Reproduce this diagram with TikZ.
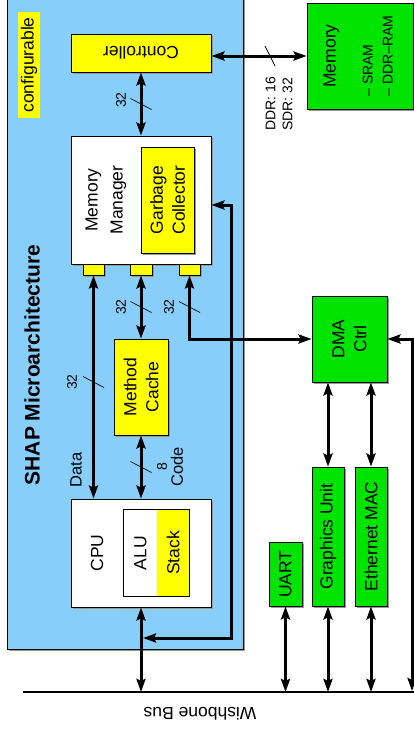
\documentclass[tikz,border=0pt]{standalone}
\usepackage{fontspec}
\setmainfont{Liberation Sans}
\usetikzlibrary{arrows.meta,shadows}
\definecolor{sky}{RGB}{135,206,250}
\definecolor{chipgreen}{RGB}{0,228,0}
\definecolor{hiyellow}{RGB}{255,255,0}
\newcommand{\mainfs}{\fontsize{17.5}{22}\selectfont}
\newcommand{\smallfs}{\fontsize{14}{17}\selectfont}
\newcommand{\listfs}{\fontsize{14}{20}\selectfont}
% bus width marks across a vertical / horizontal link
\newcommand{\vslash}[1]{\draw[slash] (#1) ++(-10.5,-5.5) -- ++(21,11);}
\newcommand{\hslash}[1]{\draw[slash] (#1) ++(-5,-10) -- ++(10,20);}

\begin{document}
\begin{tikzpicture}[
  x=1pt, y=-1pt, font=\mainfs,
  box/.style={draw, line width=0.8pt, inner sep=0pt,
    drop shadow={shadow xshift=1.5pt, shadow yshift=-1.5pt, fill=black!40, opacity=1}},
  core/.style={box, fill=hiyellow},
  unit/.style={box, fill=chipgreen},
  vtext/.style={rotate=90, align=center},
  num/.style={rotate=90, font=\smallfs},
  link/.style={{Stealth[length=13pt,width=9pt,inset=2pt]}-{Stealth[length=13pt,width=9pt,inset=2pt]}, line width=3pt},
  slash/.style={line width=0.7pt}]
\useasboundingbox (0,0) rectangle (414,734);
\clip (0,0) rectangle (414,734);

% SHAP chip
\draw[box, fill=sky] (7,-10) rectangle (243,649);
\node[fill=hiyellow, rotate=90, minimum width=106pt, minimum height=22pt, inner sep=0pt] (cfg) at (29,65) {configurable};
\node[rotate=90, font=\fontsize{21}{25}\selectfont\bfseries] (title) at (32,365) {SHAP Microarchitecture};

\node[core, minimum width=140pt, minimum height=38pt] (ctrl) at (141,53) {};
\node[rotate=180] (ctrl-t) at (ctrl) {Controller};

\node[box, fill=white, minimum width=140pt, minimum height=128pt] (mm) at (141,200) {};
\node[vtext, font=\fontsize{17.5}{25}\selectfont] (mm-t) at (106,200) {Memory\\Manager};
\node[core, minimum width=53pt, minimum height=106pt] (gc) at (167.5,200) {};
\node[vtext] (gc-t) at (gc) {Garbage\\Collector};
\node[core, minimum width=21pt, minimum height=11pt] (p1) at (93.5,269.5) {};
\node[core, minimum width=22pt, minimum height=11pt] (p2) at (141,269.5) {};
\node[core, minimum width=21pt, minimum height=11pt] (p3) at (189.5,269.5) {};

\node[core, minimum width=54pt, minimum height=96pt] (mc) at (141,387) {};
\node[vtext] (mc-t) at (mc) {Method\\Cache};

\node[box, fill=white, minimum width=140pt, minimum height=108pt] (cpu) at (141,553) {};
\node[vtext] (cpu-t) at (97,553) {CPU};
\node[fill=white, minimum width=33pt, minimum height=86pt, inner sep=0pt] (alu) at (140.5,553) {};
\node[fill=hiyellow, minimum width=32pt, minimum height=86pt, inner sep=0pt] (stack) at (173,553) {};
\draw[line width=0.8pt] (alu.north west) rectangle (stack.south east);
\node[vtext] (alu-t) at (alu) {ALU};
\node[vtext] (stack-t) at (stack) {Stack};

% peripherals
\node[unit, minimum width=106pt, minimum height=106pt] (mem) at (360,56) {};
\node[vtext, font=\listfs] (mem-t) at (mem) {\begin{tabular}{@{}l@{}}\multicolumn{1}{@{}c@{}}{\mainfs Memory}\\[17pt] -- SRAM\\ -- DDR--RAM\end{tabular}};
\node[unit, minimum width=75pt, minimum height=86pt] (dma) at (349.5,339) {};
\node[vtext] (dma-t) at (dma) {DMA\\Ctrl};
\node[unit, minimum width=32pt, minimum height=139pt] (gu) at (328,536.5) {};
\node[vtext] (gu-t) at (gu) {Graphics Unit};
\node[unit, minimum width=32pt, minimum height=139pt] (eth) at (371,536.5) {};
\node[vtext] (eth-t) at (eth) {Ethernet MAC};
\node[unit, minimum width=33pt, minimum height=64pt] (uart) at (285.5,574) {};
\node[vtext] (uart-t) at (uart) {UART};

% Wishbone bus
\coordinate (bus-l) at (23,692);
\coordinate (bus-r) at (414,692);
\draw[line width=2.8pt] (bus-l) -- (bus-r);
\node[rotate=180] (bus-t) at (200,714) {Wishbone Bus};

% links
\draw[link] (ctrl.east |- mem.west) -- (mem.west);
\hslash{270,56}
\node[num, align=left] (ddr) at (279,104) {DDR: 16\\SDR: 32};

\draw[link] (ctrl.south) -- (mm.north) coordinate[midway] (w-cm);
\vslash{w-cm}
\node[num] (w-cm-t) at (121,100) {32};

\draw[link] (p1.south) -- (p1.south |- cpu.north);
\vslash{93.5,382}
\node[num] (w-data-t) at (72,382) {32};
\node[rotate=90, font=\fontsize{16.5}{20}\selectfont] (data-t) at (76,470) {Data};

\draw[link] (p2.south) -- (mc.north) coordinate[midway] (w-mc);
\vslash{w-mc}
\node[num] (w-mc-t) at (121,307) {32};

\draw[link] (p3.south) |- (dma.west);
\vslash{189.5,307}
\node[num] (w-dma-t) at (169,307) {32};

\draw[link] (mc.south) -- (mc.south |- cpu.north) coordinate[midway] (w-code);
\vslash{w-code}
\node[rotate=90, align=center, font=\fontsize{16.5}{16}\selectfont] (code-t) at (170,467) {{\smallfs 8}\\Code};

\coordinate (gc-tap) at (143,638);
\coordinate (gc-bend) at (231,205);
\draw[link] (gc-tap) -| (gc-bend) -- (gc-bend -| mm.east);
\draw[link] (cpu.south) -- (cpu.south |- bus-l);

\draw[link] (dma.south -| gu) -- (gu.north);
\draw[link] (dma.south -| eth) -- (eth.north);
\foreach \u in {uart,gu,eth}
  \draw[link] (\u.south) -- (\u.south |- bus-l);
\coordinate (dma-tap) at (412,691);
\draw[link] (dma-tap) |- (dma.east);
\end{tikzpicture}
\end{document}
